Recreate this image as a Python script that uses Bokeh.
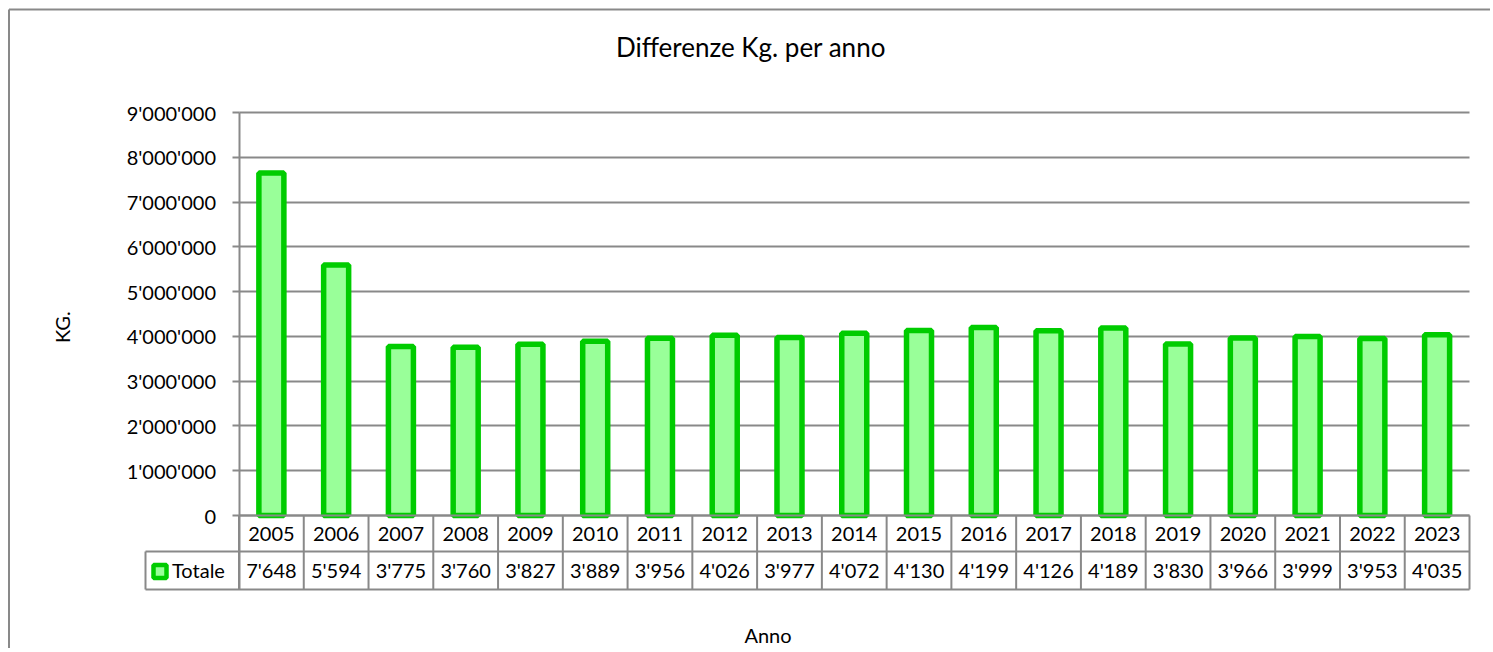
import math
from bokeh.plotting import figure
from bokeh.models import Range1d, FixedTicker, Grid
from bokeh.core.properties import value
from bokeh.embed import file_html
from bokeh.resources import INLINE

# ---------------- data ----------------
years = ["2005", "2006", "2007", "2008", "2009", "2010", "2011", "2012", "2013", "2014",
         "2015", "2016", "2017", "2018", "2019", "2020", "2021", "2022", "2023"]
totals_thousands = [7648, 5594, 3775, 3760, 3827, 3889, 3956, 4026, 3977, 4072,
                    4130, 4199, 4126, 4189, 3830, 3966, 3999, 3953, 4035]
y_ticks = [0, 1000000, 2000000, 3000000, 4000000, 5000000, 6000000, 7000000, 8000000, 9000000]
title_text = "Differenze Kg. per anno"
y_axis_title = "KG."
x_axis_title = "Anno"
series_name = "Totale"


def swiss(n):
    return f"{n:,}".replace(",", "'")


# ---------------- style / layout (pixels of the page) ----------------
FONT = "Lato"
GRID = "#898989"
FILL = "#99FF99"
EDGE = "#00CC00"
TXT = "#000000"

W, H = 1490, 648
N = len(years)
AXIS_X = 238.5                    # page x of the value axis / first category edge
CAT = (1469 - AXIS_X) / N         # px per category
ZERO_Y, TOP_Y = 515, 112          # page y of 0 and of 9'000'000
PX_PER_UNIT = (ZERO_Y - TOP_Y) / y_ticks[-1]


def xd(px):
    return (px - AXIS_X) / CAT


def yd(py):
    return (ZERO_Y - py) / PX_PER_UNIT


ROW_SPLIT, ROW_END = 551, 589
LEG_L = xd(145)

p = figure(width=W, height=H, x_range=Range1d(xd(0), xd(W)), y_range=Range1d(yd(H), yd(0)),
           output_backend="svg", toolbar_location=None, x_axis_location=None,
           min_border=0)
p.outline_line_color = None
p.background_fill_color = "white"
p.border_fill_color = "white"
p.xgrid.visible = False

# ---- value axis (real axis, placed at the first category edge) ----
ya = p.yaxis[0]
ya.fixed_location = 0
ya.bounds = (yd(ROW_END), y_ticks[-1])
ya.ticker = FixedTicker(ticks=y_ticks)
ya.major_label_overrides = {t: swiss(t) for t in y_ticks}
ya.major_tick_out = 7
ya.major_tick_in = 0
ya.minor_tick_out = 0
ya.minor_tick_in = 0
ya.axis_line_color = GRID
ya.axis_line_width = 2
ya.major_tick_line_color = GRID
ya.major_tick_line_width = 2
ya.major_label_standoff = 16
ya.major_label_text_font = FONT
ya.major_label_text_font_size = "20px"
ya.major_label_text_color = TXT

g = p.ygrid[0]
g.ticker = FixedTicker(ticks=y_ticks)
g.grid_line_color = GRID
g.grid_line_width = 2
if "cross_bounds" in Grid.properties():
    g.cross_bounds = (0, N)
else:
    g.visible = False
    p.segment(x0=[0] * len(y_ticks), y0=y_ticks, x1=[N] * len(y_ticks), y1=y_ticks,
              line_color=GRID, line_width=2)

# ---- bars ----
xs = [i + 0.5 for i in range(N)]
tops = [v * 1000 for v in totals_thousands]
p.vbar(x=xs, top=tops, bottom=0, width=0.386, fill_color=FILL,
       line_color=EDGE, line_width=5.5)

# ---- data table ----
vx = [float(i) for i in range(N + 1)]
p.segment(x0=vx, y0=[0] * (N + 1), x1=vx, y1=[yd(ROW_END)] * (N + 1),
          line_color=GRID, line_width=2)
p.segment(x0=[0, LEG_L, LEG_L, LEG_L], y0=[0, yd(ROW_SPLIT), yd(ROW_END), yd(ROW_SPLIT)],
          x1=[N, N, N, LEG_L], y1=[0, yd(ROW_SPLIT), yd(ROW_END), yd(ROW_END)],
          line_color=GRID, line_width=2)

TXT_KW = dict(text_baseline="middle", text_font=value(FONT), text_color=TXT)

p.text(x=xs, y=[yd(533)] * N, text=years, text_align="center",
       text_font_size="20px", **TXT_KW)
p.text(x=xs, y=[yd(569.5)] * N, text=[swiss(v) for v in totals_thousands],
       text_align="center", text_font_size="20px", **TXT_KW)

p.scatter(x=[xd(159.5)], y=[yd(571)], marker="square", size=13, fill_color=FILL,
          line_color=EDGE, line_width=4.5)
p.text(x=[xd(171.5)], y=[yd(569.5)], text=[series_name], text_align="left",
       text_font_size="20px", **TXT_KW)

# ---- titles ----
p.text(x=[xd(750.4)], y=[yd(46)], text=[title_text], text_align="center",
       text_font_size="26px", **TXT_KW)
p.text(x=[xd(767.5)], y=[yd(634)], text=[x_axis_title], text_align="center",
       text_font_size="20px", **TXT_KW)
p.text(x=[xd(61)], y=[yd(326.7)], text=[y_axis_title], angle=math.pi / 2,
       text_align="center", text_font_size="20px", **TXT_KW)

# ---- chart border (left and top edges are the only ones inside the window) ----
p.segment(x0=[xd(8.5), xd(8.5)], y0=[yd(9), yd(9)], x1=[xd(8.5), xd(W)], y1=[yd(H), yd(9)],
          line_color=GRID, line_width=2)

open("out.html", "w").write(file_html(p, INLINE))
